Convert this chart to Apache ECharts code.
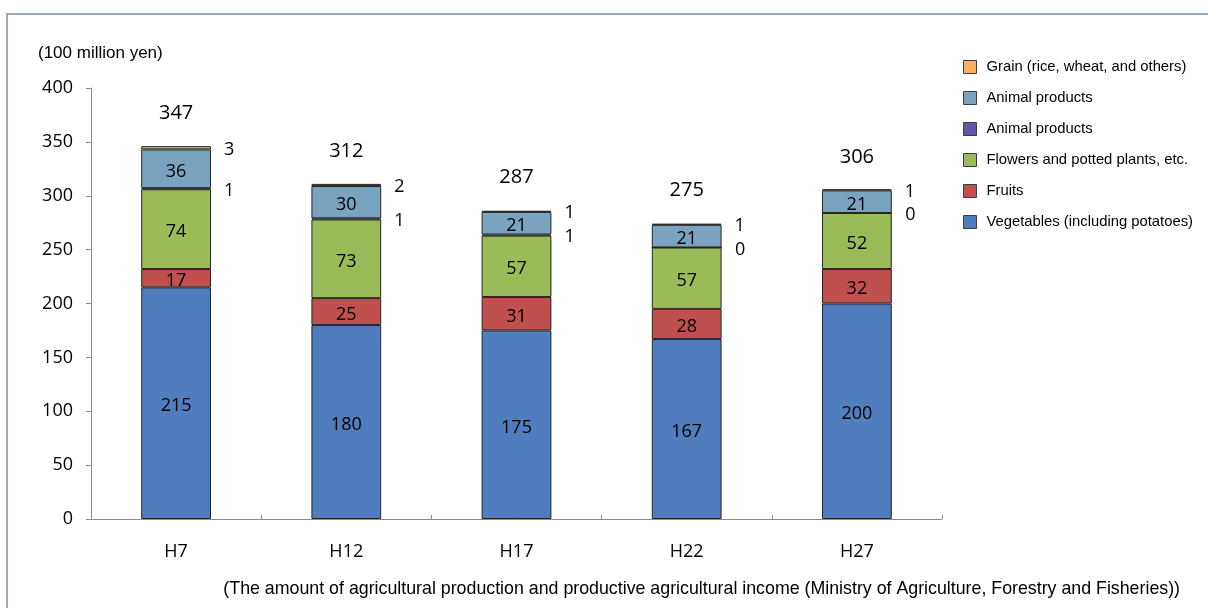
<!DOCTYPE html>
<html>
<head>
<meta charset="utf-8">
<script src="https://cdn.jsdelivr.net/npm/echarts@6/dist/echarts.min.js"></script>
<style>
  html, body { margin: 0; padding: 0; background: #ffffff; }
  #chart { width: 1208px; height: 608px; }
</style>
</head>
<body>
<div id="chart"></div>
<script>
// Survey years (Heisei era)
const years = ['H7', 'H12', 'H17', 'H22', 'H27'];

// Agricultural output by item, in 100 million yen
const vegetables = [215, 180, 175, 167, 200];
const fruits = [17, 25, 31, 28, 32];
const flowers = [74, 73, 57, 57, 52];
const animalSmall = [1, 1, 1, 0, 0];
const animalMain = [36, 30, 21, 21, 21];
const grain = [3, 2, 1, 1, 1];
const totals = [347, 312, 287, 275, 306];

const yTicks = [0, 50, 100, 150, 200, 250, 300, 350, 400];

const numFont = '"Open Sans", "Noto Sans", sans-serif';
const textFont = '"Liberation Sans", Arial, sans-serif';

const edge = { borderColor: '#262626', borderWidth: 1 };

function stackedBar(name, data, color, labelPos) {
  const inside = labelPos === 'inside';
  return {
    name: name,
    type: 'bar',
    stack: 'total',
    barWidth: '41%',
    data: data,
    itemStyle: Object.assign({ color: color }, edge),
    label: {
      show: true,
      position: inside ? 'inside' : 'right',
      distance: inside ? 5 : 13,
      offset: [0, inside ? 3 : 2],
      color: '#000',
      fontFamily: numFont,
      fontSize: 18
    },
    emphasis: { disabled: true }
  };
}

const chart = echarts.init(document.getElementById('chart'), null, { renderer: 'canvas' });

chart.setOption({
  animation: false,
  grid: { left: 91, right: 266, top: 88, bottom: 89, containLabel: false },
  legend: {
    orient: 'vertical',
    left: 963,
    top: 59,
    padding: 0,
    itemWidth: 13,
    itemHeight: 13,
    itemGap: 15,
    icon: 'rect',
    data: ['Grain (rice, wheat, and others)', 'Animal products\u00a0', 'Animal products',
           'Flowers and potted plants, etc.', 'Fruits', 'Vegetables (including potatoes)'],
    formatter: n => n.trim(),
    textStyle: { fontFamily: textFont, fontSize: 14.8, lineHeight: 16, color: '#000', padding: [0, 0, 0, 5] },
    itemStyle: { borderColor: '#404040', borderWidth: 1 }
  },
  xAxis: {
    type: 'category',
    data: years,
    axisLine: { lineStyle: { color: '#8c8c8c', width: 1 } },
    axisTick: { show: true, inside: true, length: 4, alignWithLabel: false, lineStyle: { color: '#8c8c8c' } },
    axisLabel: { color: '#000', fontFamily: numFont, fontSize: 18, margin: 24 }
  },
  yAxis: {
    type: 'value',
    min: yTicks[0],
    max: yTicks[yTicks.length - 1],
    interval: yTicks[1] - yTicks[0],
    splitLine: { show: false },
    axisLine: { show: true, lineStyle: { color: '#8c8c8c', width: 1 } },
    axisTick: { show: true, length: 5, lineStyle: { color: '#8c8c8c' } },
    axisLabel: { color: '#000', fontFamily: numFont, fontSize: 18, margin: 18 }
  },
  series: [
    stackedBar('Vegetables (including potatoes)', vegetables, '#4F7DBD', 'inside'),
    stackedBar('Fruits', fruits, '#C0504D', 'inside'),
    stackedBar('Flowers and potted plants, etc.', flowers, '#9BBB59', 'inside'),
    stackedBar('Animal products', animalSmall, '#6455A6', 'right'),
    stackedBar('Animal products\u00a0', animalMain, '#7AA3BF', 'inside'),
    stackedBar('Grain (rice, wheat, and others)', grain, '#F8B060', 'right'),
    {
      // bar totals written above each stack
      name: 'Total',
      type: 'scatter',
      data: totals,
      symbolSize: 0,
      silent: true,
      itemStyle: { opacity: 1 },
      label: {
        show: true,
        position: 'top',
        distance: 22,
        color: '#000',
        opacity: 1,
        fontFamily: numFont,
        fontSize: 20
      }
    }
  ],
  graphic: [
    {
      type: 'rect',
      shape: { x: 7, y: 14, width: 1240, height: 640 },
      style: { fill: 'none', stroke: '#7890a8', lineWidth: 1.5 },
      silent: true
    },
    {
      type: 'text',
      left: 38,
      top: 45,
      style: { text: '(100 million yen)', font: '17px ' + textFont, fill: '#000' }
    },
    {
      type: 'text',
      right: 28,
      top: 580,
      style: {
        text: '(The amount of agricultural production and productive agricultural income (Ministry of Agriculture, Forestry and Fisheries))',
        font: '17.8px ' + textFont,
        fill: '#000'
      }
    }
  ]
});
</script>
</body>
</html>
